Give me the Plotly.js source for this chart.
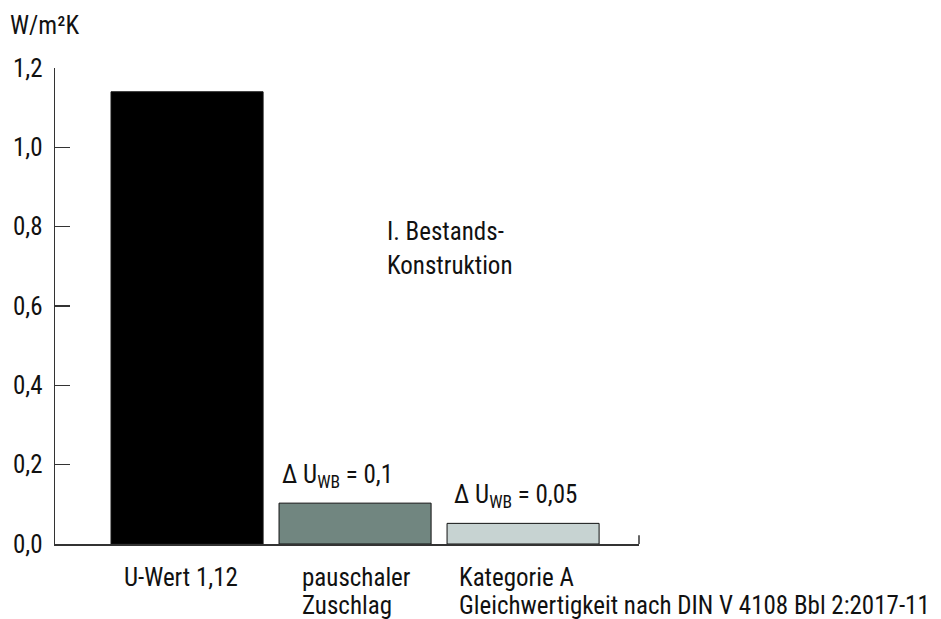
<!DOCTYPE html>
<html><head><meta charset="utf-8">
<script src="https://cdn.plot.ly/plotly-3.0.1.min.js"></script>
<style>html,body{margin:0;padding:0;background:#fff;}</style>
</head><body>
<div id="chart" style="width:941px;height:619px;"></div>
<script>
const categories = ["U-Wert", "pauschaler Zuschlag", "Kategorie A"];
const values = [1.14, 0.103, 0.052];
const barColors = ["#000000", "#718680", "#c7d3d2"];
const tickValues = [0, 0.2, 0.4, 0.6, 0.8, 1.0, 1.2];
const catLine1 = ["U-Wert 1,12", "pauschaler", "Kategorie A"];
const catLine2 = ["", "Zuschlag", "Gleichwertigkeit nach DIN V 4108 Bbl 2:2017-11"];
const deltaLabels = ["", "Δ U<sub>WB</sub> = 0,1", "Δ U<sub>WB</sub> = 0,05"];
const noteLines = ["I. Bestands-", "Konstruktion"];
const unitLabel = "W/m²K";

const FONT = '"Liberation Sans Narrow", "Roboto Condensed", "DejaVu Sans Condensed", Arial, sans-serif';
const fs = 25;
const xIdx = categories.map((c,i)=>i);

const trace = {
  type: 'bar', x: xIdx, y: values,
  marker: {color: barColors, line: {color: '#111', width: 1}},
  width: 0.905, hoverinfo: 'skip'
};

const ann = [];
const line1X = [-0.387, 0.673, 1.607];
catLine1.forEach((t,i)=>{
  ann.push({text: t, x: line1X[i], y: -0.0714, xref:'x', yref:'paper', xanchor:'left', yanchor:'middle', showarrow:false, font:{size:fs}});
  if (catLine2[i]) ann.push({text: catLine2[i], x: line1X[i], y: -0.130, xref:'x', yref:'paper', xanchor:'left', yanchor:'middle', showarrow:false, font:{size:fs}});
});
const deltaX = [0, 0.554, 1.577];
deltaLabels.forEach((t,i)=>{
  if (t) ann.push({text: t, x: deltaX[i], y: values[i] + 0.068, xref:'x', yref:'y', xanchor:'left', yanchor:'middle', showarrow:false, font:{size:fs}});
});
ann.push({text: noteLines[0], x: 1.179, y: 0.787, xref:'x', yref:'y', xanchor:'left', yanchor:'middle', showarrow:false, font:{size:fs}});
ann.push({text: noteLines[1], x: 1.179, y: 0.701, xref:'x', yref:'y', xanchor:'left', yanchor:'middle', showarrow:false, font:{size:fs}});
ann.push({text: unitLabel, x: -0.0805, y: 1.09, xref:'paper', yref:'paper', xanchor:'left', yanchor:'middle', showarrow:false, font:{size:fs}});

const layout = {
  width: 941, height: 619,
  margin: {l: 55, r: 302, t: 68, b: 75},
  paper_bgcolor: '#fff', plot_bgcolor: '#fff',
  separators: ',.',
  font: {family: FONT, size: fs, color: '#111'},
  showlegend: false,
  xaxis: {range: [-0.786, 2.69], showline: true, linecolor: '#333', linewidth: 1.5,
          showticklabels: false, ticks: '', showgrid: false, zeroline: false, fixedrange: true},
  yaxis: {range: [0, 1.2], tickvals: tickValues, tickformat: '.1f', ticks: 'inside', ticklen: 15,
          tickwidth: 1.5, tickcolor: '#333', showline: true, linecolor: '#333', linewidth: 1.5,
          showgrid: false, zeroline: false, ticklabelstandoff: 6, tickfont: {size: fs}},
  annotations: ann,
  shapes: [{type:'line', xref:'paper', yref:'y', x0:1, x1:1, y0:0, y1:0.022, line:{color:'#333', width:1.5}}]
};
Plotly.newPlot('chart', [trace], layout, {staticPlot: true, displayModeBar: false});
</script>
</body></html>
